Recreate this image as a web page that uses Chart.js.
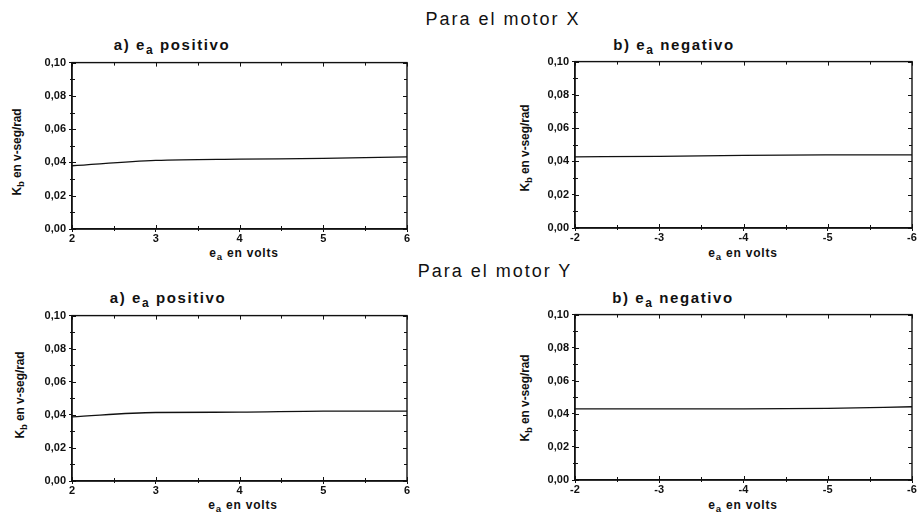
<!DOCTYPE html>
<html>
<head>
<meta charset="utf-8">
<script src="https://cdn.jsdelivr.net/npm/chart.js@4.4.1/dist/chart.umd.min.js"></script>
<style>
  html, body { margin: 0; padding: 0; background: #fff; }
  body { width: 919px; height: 515px; position: relative; overflow: hidden; font-family: "Liberation Sans", Arial, sans-serif; color: #111; }
  .panel { position: absolute; }
  .main { position: absolute; font-size: 18px; letter-spacing: 2px; transform: translate(-50%, -50%); white-space: nowrap; }
  .sub { position: absolute; font-size: 15px; font-weight: bold; letter-spacing: 1.6px; transform: translate(-50%, -50%); white-space: nowrap; }
  .xt { position: absolute; font-size: 12px; font-weight: bold; letter-spacing: 0.8px; transform: translate(-50%, -50%); white-space: nowrap; }
  .yt { position: absolute; font-size: 12px; font-weight: bold; transform: translate(-50%, -50%) rotate(-90deg); white-space: nowrap; letter-spacing: -0.1px; }
  sub { font-size: 80%; vertical-align: -0.35em; line-height: 0; }
</style>
</head>
<body>
<div class="main" style="left:503px; top:19px;">Para el motor X</div>
<div class="main" style="left:495px; top:271px;">Para el motor Y</div>

<div class="sub" style="left:172px; top:44px;">a) e<sub>a</sub> positivo</div>
<div class="sub" style="left:674px; top:44px;">b) e<sub>a</sub> negativo</div>
<div class="sub" style="left:168px; top:297px;">a) e<sub>a</sub> positivo</div>
<div class="sub" style="left:673px; top:297px;">b) e<sub>a</sub> negativo</div>

<div class="xt" style="left:244px; top:253px;">e<sub>a</sub> en volts</div>
<div class="xt" style="left:743px; top:253px;">e<sub>a</sub> en volts</div>
<div class="xt" style="left:243px; top:505px;">e<sub>a</sub> en volts</div>
<div class="xt" style="left:743px; top:505px;">e<sub>a</sub> en volts</div>

<div class="yt" style="left:17px; top:152px;">K<sub>b</sub> en v-seg/rad</div>
<div class="yt" style="left:525px; top:148px;">K<sub>b</sub> en v-seg/rad</div>
<div class="yt" style="left:20px; top:395px;">K<sub>b</sub> en v-seg/rad</div>
<div class="yt" style="left:525px; top:398px;">K<sub>b</sub> en v-seg/rad</div>

<div class="panel" id="p1"><canvas id="c1"></canvas></div>
<div class="panel" id="p2"><canvas id="c2"></canvas></div>
<div class="panel" id="p3"><canvas id="c3"></canvas></div>
<div class="panel" id="p4"><canvas id="c4"></canvas></div>

<script>
// ---- data ----
const voltsPositive = [2, 3, 4, 5, 6];
const voltsNegative = [-2, -3, -4, -5, -6];
const motorX_positive = [0.0380, 0.0412, 0.0420, 0.0424, 0.0434];
const motorX_negative = [0.0428, 0.0430, 0.0437, 0.0439, 0.0439];
const motorY_positive = [0.0388, 0.0414, 0.0416, 0.0422, 0.0422];
const motorY_negative = [0.0430, 0.0430, 0.0430, 0.0433, 0.0443];
const yTickValues = [0.00, 0.02, 0.04, 0.06, 0.08, 0.10];

// ---- layout ----
const Y_AXIS_W = 34, X_AXIS_H = 18, PAD_TOP = 6, PAD_RIGHT = 6;
const panels = [
  { id: 'p1', canvas: 'c1', L: 72,  R: 407, T: 59,  B: 229, xs: voltsPositive, ys: motorX_positive, neg: false },
  { id: 'p2', canvas: 'c2', L: 575, R: 912, T: 58,  B: 228, xs: voltsNegative, ys: motorX_negative, neg: true },
  { id: 'p3', canvas: 'c3', L: 72,  R: 407, T: 312, B: 481, xs: voltsPositive, ys: motorY_positive, neg: false },
  { id: 'p4', canvas: 'c4', L: 575, R: 912, T: 311, B: 480, xs: voltsNegative, ys: motorY_negative, neg: true }
];

// frame + inward major/minor ticks on all four sides
const framePlugin = {
  id: 'frame',
  afterDraw(chart) {
    const { ctx, chartArea: a, scales } = chart;
    const xs = scales.x, ys = scales.y;
    ctx.save();
    ctx.strokeStyle = '#111';
    ctx.lineWidth = 1.4;
    ctx.strokeRect(a.left, a.top, a.right - a.left, a.bottom - a.top);
    ctx.lineWidth = 1;
    ctx.beginPath();
    const xMaj = xs.ticks.map(t => t.value);
    const xAll = [];
    for (let i = 0; i < xMaj.length; i++) {
      xAll.push([xMaj[i], 4]);
      if (i < xMaj.length - 1) xAll.push([(xMaj[i] + xMaj[i + 1]) / 2, 3]);
    }
    xAll.forEach(([v, len]) => {
      const px = Math.round(xs.getPixelForValue(v)) + 0.5;
      ctx.moveTo(px, a.bottom); ctx.lineTo(px, a.bottom - len);
      ctx.moveTo(px, a.top); ctx.lineTo(px, a.top + len);
      if (len === 3) { ctx.moveTo(px, a.bottom); ctx.lineTo(px, a.bottom + 2); }
    });
    const yMaj = ys.ticks.map(t => t.value);
    const yAll = [];
    for (let i = 0; i < yMaj.length; i++) {
      yAll.push([yMaj[i], 4]);
      if (i < yMaj.length - 1) yAll.push([(yMaj[i] + yMaj[i + 1]) / 2, 3]);
    }
    yAll.forEach(([v, len]) => {
      const py = Math.round(ys.getPixelForValue(v)) + 0.5;
      ctx.moveTo(a.left, py); ctx.lineTo(a.left + len, py);
      ctx.moveTo(a.right, py); ctx.lineTo(a.right - len, py);
      if (len === 3) { ctx.moveTo(a.left, py); ctx.lineTo(a.left - 2, py); }
    });
    ctx.stroke();
    ctx.restore();
  }
};

panels.forEach(p => {
  const div = document.getElementById(p.id);
  const w = (p.R - p.L) + Y_AXIS_W + PAD_RIGHT;
  const h = (p.B - p.T) + PAD_TOP + X_AXIS_H;
  div.style.left = (p.L - Y_AXIS_W) + 'px';
  div.style.top = (p.T - PAD_TOP) + 'px';
  div.style.width = w + 'px';
  div.style.height = h + 'px';
  const cv = document.getElementById(p.canvas);
  cv.width = w; cv.height = h;
  cv.style.width = w + 'px'; cv.style.height = h + 'px';

  const xMin = Math.min(...p.xs), xMax = Math.max(...p.xs);
  new Chart(cv, {
    type: 'line',
    data: {
      datasets: [{
        data: p.xs.map((x, i) => ({ x: x, y: p.ys[i] })),
        borderColor: '#111',
        borderWidth: 1.3,
        pointRadius: 0,
        fill: false,
        cubicInterpolationMode: 'monotone'
      }]
    },
    options: {
      responsive: false,
      animation: false,
      devicePixelRatio: 1,
      layout: { padding: { top: PAD_TOP, right: PAD_RIGHT, left: 0, bottom: 0 } },
      plugins: { legend: { display: false }, tooltip: { enabled: false }, title: { display: false } },
      scales: {
        x: {
          type: 'linear',
          min: xMin, max: xMax,
          reverse: p.neg,
          afterFit(s) { s.height = X_AXIS_H; },
          afterBuildTicks(s) { s.ticks = p.xs.map(v => ({ value: v })); },
          ticks: {
            color: '#111',
            font: { family: 'Liberation Sans', size: 11, weight: 'bold' },
            padding: 0,
            maxRotation: 0,
            autoSkip: false,
            callback: v => String(v)
          },
          grid: { display: true, drawOnChartArea: false, drawTicks: true, tickLength: 3, color: '#111' },
          border: { display: true, color: '#111', width: 1.4 }
        },
        y: {
          type: 'linear',
          min: 0, max: 0.1,
          afterFit(s) { s.width = Y_AXIS_W; },
          afterBuildTicks(s) { s.ticks = yTickValues.map(v => ({ value: v })); },
          ticks: {
            color: '#111',
            font: { family: 'Liberation Sans', size: 11, weight: 'bold' },
            padding: 3,
            autoSkip: false,
            callback: v => v.toFixed(2).replace('.', ',')
          },
          grid: { display: true, drawOnChartArea: false, drawTicks: true, tickLength: 3, color: '#111' },
          border: { display: true, color: '#111', width: 1.4 }
        }
      }
    },
    plugins: [framePlugin]
  });
});
</script>
</body>
</html>
